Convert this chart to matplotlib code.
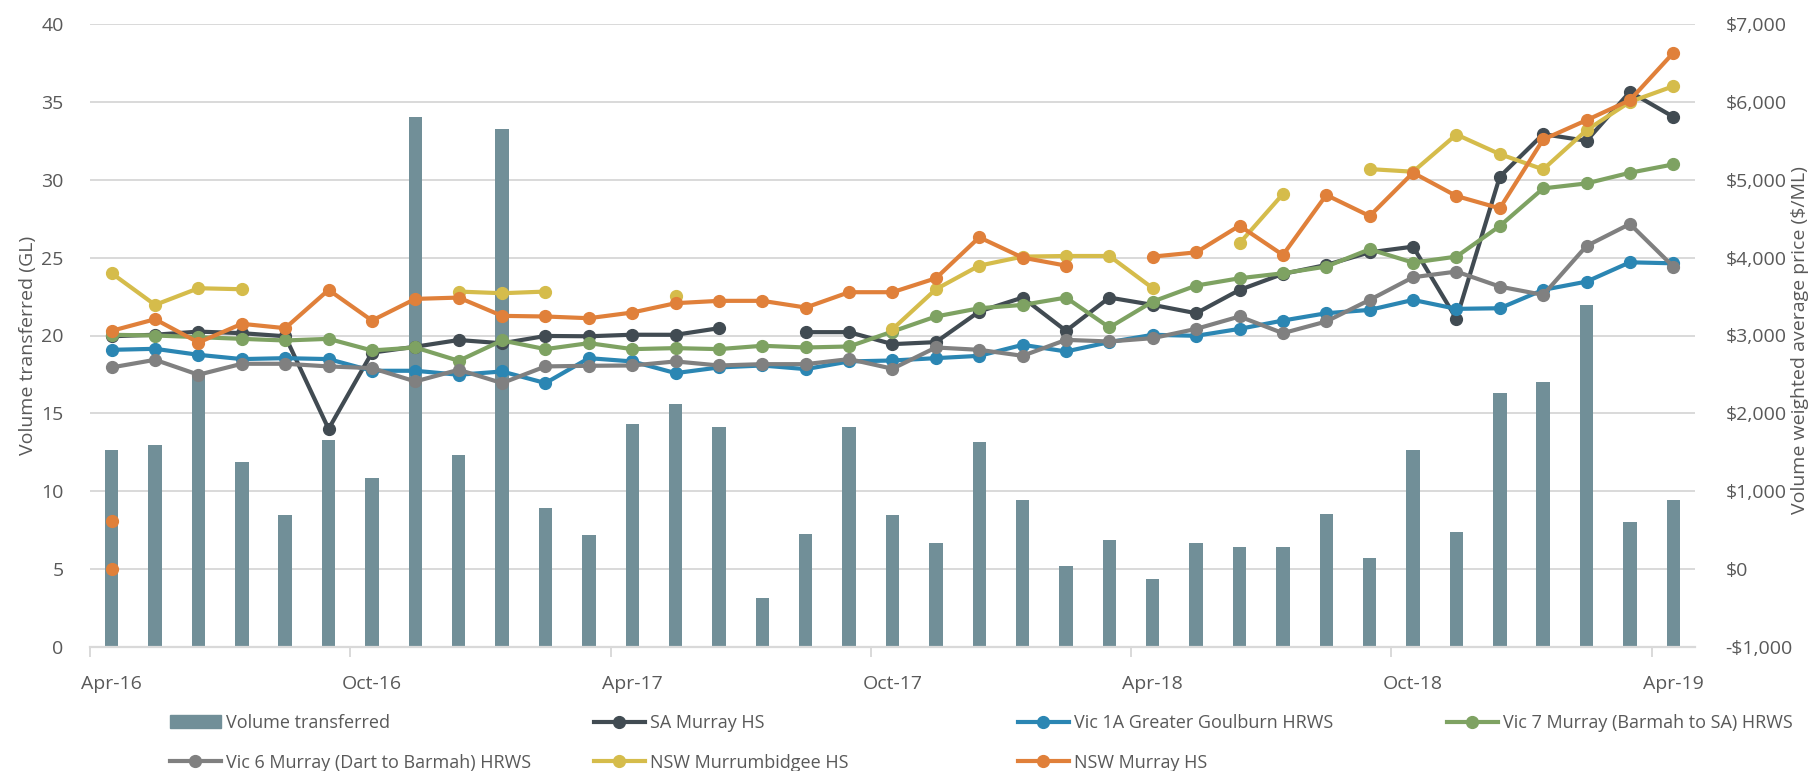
import numpy as np
import pandas as pd
import matplotlib
matplotlib.use("Agg")
import matplotlib.pyplot as plt
from matplotlib.lines import Line2D
from matplotlib.patches import Patch
from matplotlib.ticker import FuncFormatter

plt.rcParams['font.family'] = ['Open Sans', 'DejaVu Sans']

nan = np.nan
months = pd.date_range("2016-04-01", periods=37, freq="MS").strftime("%b-%y").tolist()
tick_labels = ["Apr-16", "Oct-16", "Apr-17", "Oct-17", "Apr-18", "Oct-18", "Apr-19"]

volume = [12.65, 12.97, 17.5, 11.86, 8.47, 13.27, 10.87, 34.05, 12.31, 33.28, 8.95, 7.17,
          14.3, 15.6, 14.12, 3.12, 7.23, 14.12, 8.47, 6.68, 13.14, 9.42, 5.22, 6.85,
          4.37, 6.68, 6.4, 6.4, 8.56, 5.69, 12.65, 7.4, 16.29, 17.0, 21.96, 8.0, 9.42]

sa_murray = [2990, 3010, 3050, 3030, 2990, 1800, 2780, 2856, 2942, 2900, 2994, 2990,
             3010, 3009, 3094, nan, 3043, 3043, 2889, 2915, 3308, 3487, 3060, 3487,
             3393, 3286, 3585, 3791, 3906, 4068, 4141, 3214, 5039, 5586, 5500, 6129, 5808]

vic_1a = [2816, 2829, 2752, 2697, 2709, 2697, 2547, 2547, 2496, 2538, 2389, 2709,
          2667, 2517, 2590, 2615, 2568, 2667, 2679, 2709, 2739, 2880, 2795, 2915,
          3009, 2996, 3085, 3192, 3286, 3329, 3457, 3342, 3350, 3586, 3692, 3940, 3927]

vic_7 = [3009, 3000, 2979, 2957, 2936, 2957, 2808, 2846, 2675, 2936, 2825, 2902,
         2825, 2838, 2825, 2868, 2846, 2859, 3051, 3244, 3350, 3393, 3487, 3103,
         3436, 3641, 3735, 3799, 3885, 4107, 3936, 4013, 4406, 4889, 4953, 5090, 5197]

vic_6 = [2590, 2688, 2496, 2637, 2637, 2603, 2581, 2410, 2560, 2389, 2603, 2611,
         2615, 2667, 2615, 2632, 2632, 2697, 2573, 2846, 2816, 2739, 2944, 2923,
         2966, 3085, 3244, 3030, 3180, 3457, 3748, 3821, 3628, 3521, 4150, 4432, 3885]

nsw_murrumbidgee = [3799, 3393, 3607, 3594, nan, nan, nan, nan, 3564, 3543, 3564, nan,
                    nan, 3509, nan, nan, nan, nan, 3081, 3594, 3897, 4013, 4021, 4021,
                    3607, nan, 4184, 4816, nan, 5137, 5103, 5581, 5329, 5133, 5637, 6000, 6201]

nsw_murray = [3060, 3209, 2910, 3150, 3094, 3586, 3192, 3470, 3487, 3252, 3244, 3222,
              3295, 3415, 3445, 3445, 3359, 3556, 3556, 3735, 4261, 4000, 3897, nan,
              4013, 4068, 4410, 4034, 4804, 4534, 5090, 4791, 4633, 5517, 5765, 6022, 6629]

stray_orange = [620, 0]  # isolated orange points at Apr-16

series = [
    ("SA Murray HS", sa_murray, "#414b52"),
    ("Vic 1A Greater Goulburn HRWS", vic_1a, "#2b86b3"),
    ("Vic 7 Murray (Barmah to SA) HRWS", vic_7, "#7ea262"),
    ("Vic 6 Murray (Dart to Barmah) HRWS", vic_6, "#808080"),
    ("NSW Murrumbidgee HS", nsw_murrumbidgee, "#d5bc4b"),
    ("NSW Murray HS", nsw_murray, "#e0803a"),
]
bar_color = "#718f98"
grid_color = "#d9d9d9"
text_color = "#595959"

W, H = 1815, 771
fig = plt.figure(figsize=(W / 100, H / 100), dpi=100)
ax = fig.add_axes([90 / W, 1 - 647 / H, (1695 - 90) / W, (647 - 24) / H])
ax2 = ax.twinx()

x = np.arange(len(months))
ax.bar(x, volume, width=0.31, color=bar_color, zorder=2)
ax.set_xlim(-0.5, len(months) - 0.5)
ax.set_ylim(0, 40)
ax.set_yticks(np.arange(0, 41, 5))
ax.grid(axis='y', color=grid_color, linewidth=1.4, zorder=0)
ax.set_axisbelow(True)
for s in ['top', 'right', 'left']:
    ax.spines[s].set_visible(False)
ax.spines['bottom'].set_color(grid_color)
ax.spines['bottom'].set_linewidth(1.6)
ax.tick_params(axis='y', length=0, pad=19, labelsize=14, labelcolor=text_color)

ax.set_xticks(np.arange(0, len(months), 6))
ax.set_xticklabels(tick_labels)
ax.set_xticks(np.arange(-0.5, len(months) - 1, 6), minor=True)
ax.tick_params(axis='x', which='major', length=0, pad=20, labelsize=14, labelcolor=text_color)
ax.tick_params(axis='x', which='minor', length=7, width=1.4, color=grid_color)

for name, vals, col in series:
    ax2.plot(x, vals, color=col, linewidth=3.0, marker='o', markersize=8.5, zorder=3)
ax2.plot([0] * len(stray_orange), stray_orange, linestyle='none', marker='o',
         markersize=8.5, color="#e0803a")

ax2.set_ylim(-1000, 7000)
ax2.set_yticks(np.arange(-1000, 7001, 1000))
ax2.yaxis.set_major_formatter(FuncFormatter(lambda v, p: ("-$" if v < 0 else "$") + f"{abs(v):,.0f}"))
for s in ['top', 'right', 'left', 'bottom']:
    ax2.spines[s].set_visible(False)
ax2.tick_params(axis='y', length=0, pad=22, labelsize=14, labelcolor=text_color)

fig.text(28 / W, 1 - 345 / H, "Volume transferred (GL)", rotation=90, ha='center', va='center',
         fontsize=14, color=text_color)
fig.text(1800 / W, 1 - 340 / H, "Volume weighted average price ($/ML)", rotation=90, ha='center',
         va='center', fontsize=14, color=text_color)

# Legend: four columns
def line_handle(col):
    return Line2D([0], [0], color=col, linewidth=3.0, marker='o', markersize=8.5)

cols = {name: col for name, _, col in series}
columns = [
    [(Patch(color=bar_color), "Volume transferred"),
     (line_handle(cols["Vic 6 Murray (Dart to Barmah) HRWS"]), "Vic 6 Murray (Dart to Barmah) HRWS")],
    [(line_handle(cols["SA Murray HS"]), "SA Murray HS"),
     (line_handle(cols["NSW Murrumbidgee HS"]), "NSW Murrumbidgee HS")],
    [(line_handle(cols["Vic 1A Greater Goulburn HRWS"]), "Vic 1A Greater Goulburn HRWS"),
     (line_handle(cols["NSW Murray HS"]), "NSW Murray HS")],
    [(line_handle(cols["Vic 7 Murray (Barmah to SA) HRWS"]), "Vic 7 Murray (Barmah to SA) HRWS")],
]
col_x = [170, 594, 1018, 1447]
for cx, entries in zip(col_x, columns):
    leg = fig.legend([e[0] for e in entries], [e[1] for e in entries], loc='upper left',
                     bbox_to_anchor=(cx / W, 1 - 714 / H), frameon=False, fontsize=13,
                     handlelength=2.8, handletextpad=0.3, labelspacing=1.2,
                     borderpad=0, borderaxespad=0)
    for t in leg.get_texts():
        t.set_color(text_color)

fig.savefig("out.png", dpi=100)
